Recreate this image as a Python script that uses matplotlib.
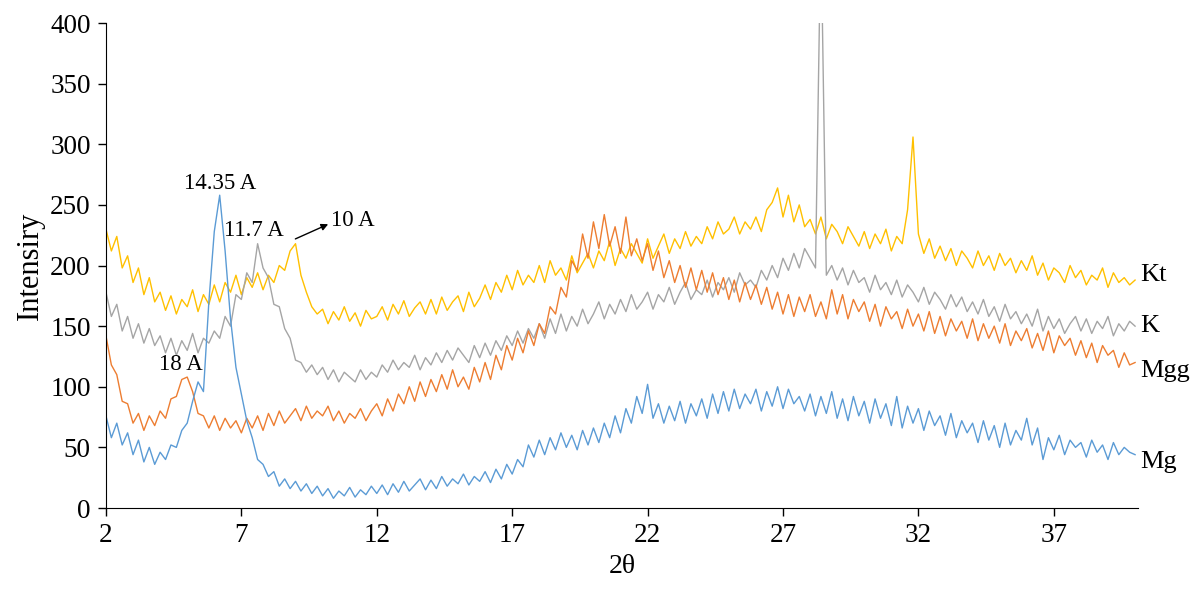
import numpy as np
import matplotlib.pyplot as plt

two_theta = np.linspace(2, 40, 191)

kt = [230, 212, 224, 198, 208, 186, 198, 176, 190, 170,
      178, 163, 175, 160, 172, 166, 180, 162, 176, 168,
      184, 170, 186, 178, 192, 176, 190, 182, 194, 180,
      192, 186, 200, 196, 212, 218, 192, 178, 166, 160,
      164, 152, 162, 155, 166, 154, 161, 150, 163, 156,
      158, 166, 155, 168, 160, 171, 158, 165, 170, 160,
      172, 160, 174, 163, 170, 175, 162, 178, 166, 173,
      184, 172, 186, 178, 192, 180, 196, 184, 192, 186,
      200, 186, 204, 192, 198, 188, 208, 194, 202, 210,
      198, 212, 204, 220, 200, 214, 206, 218, 210, 202,
      222, 206, 216, 226, 210, 222, 214, 228, 216, 224,
      218, 232, 222, 236, 226, 230, 240, 226, 236, 230,
      240, 228, 246, 252, 264, 240, 258, 236, 250, 232,
      238, 226, 240, 222, 234, 228, 218, 232, 224, 216,
      228, 214, 226, 218, 230, 212, 224, 218, 246, 306,
      226, 210, 222, 206, 216, 204, 214, 200, 212, 206,
      198, 212, 200, 208, 196, 210, 200, 206, 194, 204,
      196, 208, 192, 202, 188, 198, 194, 186, 200, 190,
      196, 184, 192, 188, 198, 182, 194, 186, 190, 184,
      188]

k = [178, 158, 168, 146, 158, 140, 152, 136, 148, 134,
     142, 128, 140, 126, 138, 130, 144, 128, 140, 136,
     146, 140, 158, 150, 176, 172, 194, 186, 218, 198,
     190, 168, 166, 148, 140, 122, 120, 112, 118, 110,
     116, 106, 114, 104, 112, 108, 104, 114, 106, 112,
     108, 118, 112, 122, 114, 120, 116, 126, 114, 124,
     118, 128, 120, 130, 122, 132, 126, 120, 134, 124,
     136, 126, 138, 130, 142, 134, 146, 136, 148, 140,
     152, 140, 156, 144, 160, 146, 158, 150, 164, 152,
     160, 170, 156, 168, 160, 172, 162, 176, 164, 170,
     178, 164, 176, 170, 182, 168, 178, 186, 172, 180,
     176, 188, 174, 186, 180, 190, 178, 194, 184, 188,
     182, 196, 188, 200, 190, 206, 196, 210, 198, 214,
     206, 198, 480, 192, 200, 188, 198, 184, 196, 186,
     190, 178, 192, 180, 186, 176, 188, 174, 184, 178,
     170, 182, 168, 178, 172, 164, 176, 166, 174, 162,
     170, 160, 172, 158, 166, 154, 168, 156, 162, 152,
     160, 150, 164, 146, 158, 148, 156, 144, 152, 158,
     146, 156, 144, 154, 148, 158, 142, 152, 146, 154,
     150]

mgg = [142, 118, 110, 88, 86, 70, 78, 64, 76, 68,
       80, 74, 90, 92, 106, 108, 96, 78, 76, 66,
       76, 64, 74, 66, 72, 62, 74, 66, 76, 64,
       78, 68, 80, 70, 76, 82, 72, 84, 74, 80,
       76, 84, 72, 80, 70, 78, 74, 82, 72, 80,
       86, 76, 90, 80, 94, 86, 100, 88, 104, 92,
       106, 96, 110, 98, 114, 100, 108, 98, 116, 104,
       120, 106, 126, 114, 134, 122, 140, 128, 146, 134,
       152, 144, 166, 160, 182, 174, 204, 196, 226, 206,
       236, 214, 242, 216, 232, 210, 240, 208, 222, 204,
       218, 196, 212, 190, 204, 186, 200, 182, 198, 180,
       196, 178, 194, 176, 190, 172, 188, 170, 186, 172,
       184, 168, 182, 164, 178, 160, 176, 158, 174, 162,
       176, 158, 170, 156, 180, 160, 176, 156, 172, 162,
       170, 154, 168, 150, 166, 156, 162, 148, 164, 150,
       160, 146, 162, 144, 158, 142, 156, 146, 154, 140,
       156, 138, 152, 140, 150, 136, 152, 134, 146, 138,
       148, 132, 144, 130, 146, 128, 142, 134, 140, 126,
       138, 124, 136, 120, 134, 126, 130, 116, 128, 118,
       120]

mg = [76, 58, 70, 52, 62, 44, 56, 38, 50, 36,
      46, 40, 52, 50, 64, 70, 88, 104, 96, 170,
      228, 258, 212, 156, 116, 94, 72, 58, 40, 36,
      26, 30, 18, 24, 16, 22, 14, 20, 12, 18,
      10, 16, 8, 14, 10, 17, 9, 15, 11, 18,
      12, 19, 11, 20, 13, 22, 14, 19, 24, 15,
      23, 16, 26, 18, 24, 20, 28, 19, 26, 22,
      30, 21, 32, 24, 36, 28, 40, 34, 52, 42,
      56, 44, 58, 48, 62, 50, 60, 48, 64, 52,
      66, 54, 70, 58, 76, 62, 82, 70, 92, 78,
      102, 74, 86, 70, 84, 72, 88, 70, 86, 76,
      90, 74, 94, 78, 96, 80, 98, 82, 94, 86,
      98, 80, 96, 84, 100, 82, 98, 86, 92, 80,
      94, 76, 92, 78, 96, 74, 90, 72, 92, 76,
      88, 70, 90, 74, 86, 68, 92, 66, 84, 70,
      82, 64, 80, 68, 76, 60, 78, 58, 72, 62,
      70, 54, 72, 56, 68, 50, 70, 52, 64, 56,
      74, 52, 66, 40, 58, 48, 60, 44, 56, 50,
      54, 42, 56, 46, 52, 40, 54, 44, 50, 46,
      44]

series_names = ['Kt', 'K', 'Mgg', 'Mg']
series_data = [kt, k, mgg, mg]
series_colors = ['#FFC000', '#A5A5A5', '#ED7D31', '#5B9BD5']
label_y = [192, 150, 113, 38]

plt.rcParams['font.family'] = ['Liberation Serif', 'DejaVu Serif']

fig = plt.figure(figsize=(12.04, 5.89), dpi=100)
ax = fig.add_axes([0.088, 0.1375, 0.857, 0.8234])

for name, vals, col in zip(series_names, series_data, series_colors):
    ax.plot(two_theta, vals, color=col, lw=1.0)

ax.set_xlim(2, 40.1)
ax.set_ylim(0, 400)
ax.set_xticks([2, 7, 12, 17, 22, 27, 32, 37])
ax.set_yticks(range(0, 401, 50))
ax.tick_params(direction='out', length=6, width=1, labelsize=19.5, pad=5)
for s in ['top', 'right']:
    ax.spines[s].set_visible(False)
ax.set_xlabel('2θ', fontsize=20, labelpad=4)
ax.set_ylabel('Intensiry', fontsize=22, labelpad=4)

# etiquetas de las series a la derecha
for name, yv in zip(series_names, label_y):
    ax.text(40.2, yv, name, fontsize=19, va='center', ha='left', clip_on=False)

# anotaciones de picos
ax.text(6.2, 268, '14.35 A', fontsize=16.5, ha='center', va='center')
ax.text(6.35, 229, '11.7 A', fontsize=16.5, ha='left', va='center')
ax.text(10.3, 237, '10 A', fontsize=16.5, ha='left', va='center')
ax.text(4.75, 118, '18 A', fontsize=16.5, ha='center', va='center')
ax.annotate('', xy=(10.3, 235), xytext=(8.9, 221),
            arrowprops=dict(arrowstyle='-|>', color='black', lw=1, mutation_scale=10))

fig.savefig('out.png', dpi=100)
